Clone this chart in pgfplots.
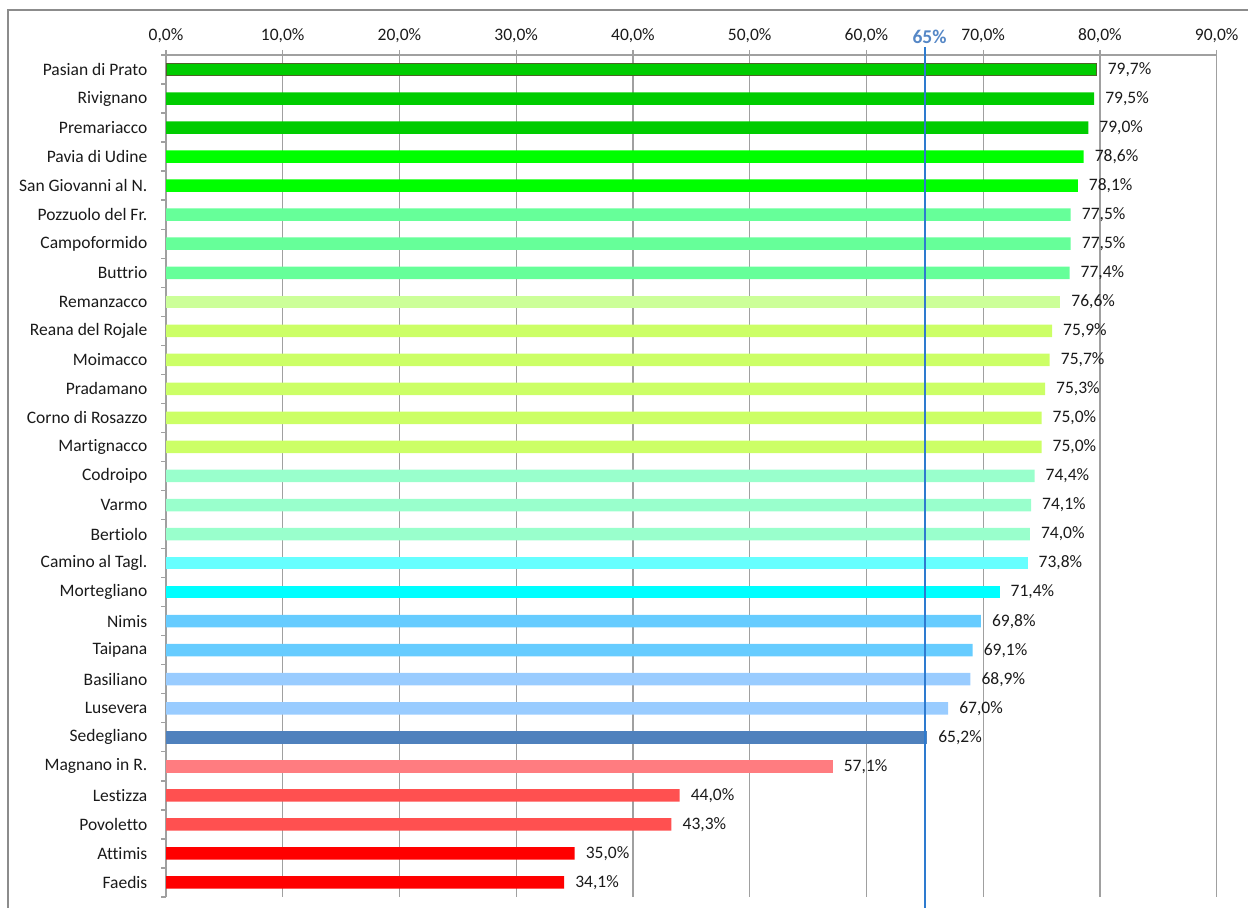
\documentclass[border=0pt]{standalone}
\usepackage{pgfplots}
\pgfplotsset{compat=1.18}
\usepackage{fontspec}
\setmainfont[Ligatures={NoCommon}]{Carlito}
\definecolor{gA}{HTML}{00CC00}
\definecolor{gB}{HTML}{00FF00}
\definecolor{gC}{HTML}{66FF99}
\definecolor{gD}{HTML}{CCFF99}
\definecolor{gE}{HTML}{CCFF66}
\definecolor{gF}{HTML}{99FFCC}
\definecolor{cA}{HTML}{66FFFF}
\definecolor{cB}{HTML}{00FFFF}
\definecolor{bA}{HTML}{66CCFF}
\definecolor{bB}{HTML}{99CCFF}
\definecolor{bC}{HTML}{4F81BD}
\definecolor{rA}{HTML}{FF7C80}
\definecolor{rB}{HTML}{FF5050}
\definecolor{rC}{HTML}{FF0000}
\definecolor{olive}{HTML}{4F6228}
\definecolor{gridc}{HTML}{A0A0A0}
\definecolor{framec}{HTML}{8C8C8C}
\definecolor{refline}{HTML}{2E7BCF}
\definecolor{reftext}{HTML}{5587C6}
\definecolor{txt}{HTML}{1A1A1A}
\pgfkeys{/pgf/number format/assume math mode=true}
\pgfplotsset{
  mybar/.style={xbar, bar width=7.5pt, bar shift=0pt, fill=#1, draw=none,
    point meta=x,
    nodes near coords={\pgfmathprintnumber[fixed,fixed zerofill,precision=1,use comma]{\pgfplotspointmeta}\%},
    nodes near coords align={horizontal},
    every node near coord/.append style={font=\fontsize{10.5}{12}\selectfont, text=txt, inner sep=0pt, anchor=west, xshift=6.5pt}
  }
}
\begin{document}
\begin{tikzpicture}
\useasboundingbox (0,0) rectangle (748.8pt,544.8pt);
\draw[framec, line width=0.8pt] (4.8pt,0) -- (4.8pt,538.8pt) -- (748.8pt,538.8pt);
\begin{axis}[
  at={(99.6pt,511.8pt)}, anchor=north west,
  scale only axis, width=630.4pt, height=505.2pt,
  xmin=0, xmax=90, ymin=-0.5, ymax=28.5, y dir=reverse,
  axis x line*=top, axis y line*=left,
  axis line style={gridc, line width=0.8pt},
  xtick={0,10,...,90},
  xticklabels={{0,0\%},{10,0\%},{20,0\%},{30,0\%},{40,0\%},{50,0\%},{60,0\%},{70,0\%},{80,0\%},{90,0\%}},
  xmajorgrids, grid style={gridc, line width=0.8pt},
  tick align=outside,
  x tick style={gridc, line width=0.8pt}, major tick length=3pt,
  xticklabel style={font=\fontsize{10.5}{12}\selectfont, text=txt, inner sep=0pt, anchor=base, yshift=5.5pt},
  ytick={0,...,28},
  yticklabels={Pasian di Prato,Rivignano,Premariacco,Pavia di Udine,San Giovanni al N.,Pozzuolo del Fr.,Campoformido,Buttrio,Remanzacco,Reana del Rojale,Moimacco,Pradamano,Corno di Rosazzo,Martignacco,Codroipo,Varmo,Bertiolo,Camino al Tagl.,Mortegliano,Nimis,Taipana,Basiliano,Lusevera,Sedegliano,Magnano in R.,Lestizza,Povoletto,Attimis,Faedis},
  y tick style={draw=none},
  minor ytick={-0.5,0.5,...,28.5},
  minor y tick style={gridc, line width=0.8pt, draw=gridc},
  minor tick length=3pt,
  yticklabel style={font=\fontsize{10.5}{12}\selectfont, text=txt, inner sep=0pt, anchor=east, xshift=-8pt},
  clip=false,
]
\addplot[mybar=gA, draw=olive, line width=0.6pt] coordinates {(79.7,0)};
\addplot[mybar=gA] coordinates {(79.5,1) (79.0,2)};
\addplot[mybar=gB] coordinates {(78.6,3) (78.1,4)};
\addplot[mybar=gC] coordinates {(77.5,5) (77.5,6) (77.4,7)};
\addplot[mybar=gD] coordinates {(76.6,8)};
\addplot[mybar=gE] coordinates {(75.9,9) (75.7,10) (75.3,11) (75.0,12) (75.0,13)};
\addplot[mybar=gF] coordinates {(74.4,14) (74.1,15) (74.0,16)};
\addplot[mybar=cA] coordinates {(73.8,17)};
\addplot[mybar=cB] coordinates {(71.4,18)};
\addplot[mybar=bA] coordinates {(69.8,19) (69.1,20)};
\addplot[mybar=bB] coordinates {(68.9,21) (67.0,22)};
\addplot[mybar=bC] coordinates {(65.2,23)};
\addplot[mybar=rA] coordinates {(57.1,24)};
\addplot[mybar=rB] coordinates {(44.0,25) (43.3,26)};
\addplot[mybar=rC] coordinates {(35.0,27) (34.1,28)};
\draw[refline, line width=1.3pt] (axis cs:65,-0.78) -- (axis cs:65,28.9);
\node[font=\bfseries\fontsize{11.7}{13}\selectfont, text=reftext, anchor=base, inner sep=0pt] at (axis cs:65.4,-0.91) {65\%};
\end{axis}
\end{tikzpicture}
\end{document}
